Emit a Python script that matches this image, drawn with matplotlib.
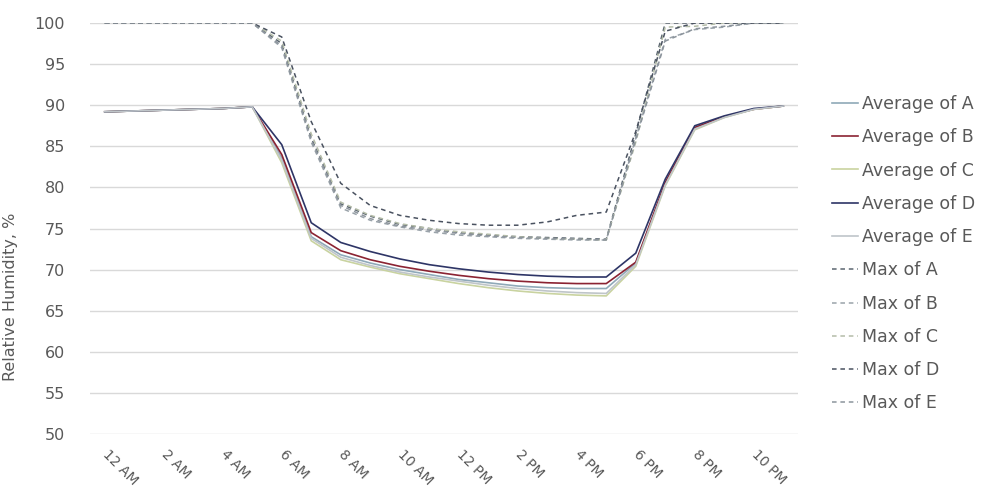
import numpy as np
from matplotlib import pyplot as plt

# hourly categories, 12 AM .. 11 PM
hours = ['12 AM', '1 AM', '2 AM', '3 AM', '4 AM', '5 AM', '6 AM', '7 AM', '8 AM', '9 AM', '10 AM', '11 AM',
         '12 PM', '1 PM', '2 PM', '3 PM', '4 PM', '5 PM', '6 PM', '7 PM', '8 PM', '9 PM', '10 PM', '11 PM']

avg_a = [89.2, 89.3, 89.4, 89.5, 89.6, 89.8, 83.6, 74.0, 71.8, 70.8, 70.0, 69.4,
         68.8, 68.4, 68.0, 67.8, 67.7, 67.7, 70.8, 80.5, 87.2, 88.6, 89.5, 89.9]
avg_b = [89.2, 89.3, 89.4, 89.5, 89.6, 89.8, 84.0, 74.5, 72.3, 71.2, 70.4, 69.8,
         69.3, 68.9, 68.6, 68.4, 68.3, 68.3, 70.9, 80.6, 87.3, 88.6, 89.5, 89.9]
avg_c = [89.2, 89.3, 89.4, 89.5, 89.6, 89.8, 83.0, 73.5, 71.2, 70.3, 69.5, 68.9,
         68.3, 67.8, 67.4, 67.1, 66.9, 66.8, 70.4, 80.2, 87.0, 88.5, 89.5, 89.9]
avg_d = [89.2, 89.3, 89.4, 89.5, 89.6, 89.8, 85.2, 75.7, 73.3, 72.2, 71.3, 70.6,
         70.1, 69.7, 69.4, 69.2, 69.1, 69.1, 72.0, 81.0, 87.5, 88.7, 89.6, 89.9]
avg_e = [89.2, 89.3, 89.4, 89.5, 89.6, 89.8, 83.3, 73.8, 71.5, 70.5, 69.7, 69.1,
         68.6, 68.1, 67.7, 67.4, 67.2, 67.1, 70.6, 80.3, 87.1, 88.5, 89.5, 89.9]

max_a = [100, 100, 100, 100, 100, 100, 97.5, 86.0, 78.0, 76.5, 75.5, 75.0,
         74.5, 74.2, 74.0, 73.9, 73.8, 73.7, 86.5, 100, 100, 100, 100, 100]
max_b = [100, 100, 100, 100, 100, 100, 97.0, 85.5, 77.5, 76.0, 75.2, 74.6,
         74.2, 74.0, 73.8, 73.7, 73.6, 73.6, 86.0, 98.0, 99.2, 99.5, 100, 100]
max_c = [100, 100, 100, 100, 100, 100, 97.8, 86.5, 78.2, 76.6, 75.6, 75.0,
         74.6, 74.3, 74.0, 73.8, 73.7, 73.6, 85.5, 99.5, 99.6, 100, 100, 100]
max_d = [100, 100, 100, 100, 100, 100, 98.3, 88.0, 80.5, 77.8, 76.6, 76.0,
         75.6, 75.4, 75.4, 75.8, 76.6, 77.0, 86.8, 99.0, 100, 100, 100, 100]
max_e = [100, 100, 100, 100, 100, 100, 97.2, 85.8, 77.8, 76.2, 75.3, 74.8,
         74.4, 74.1, 73.9, 73.8, 73.7, 73.6, 85.8, 97.8, 99.3, 99.6, 100, 100]

avg_series = [('Average of A', avg_a, '#8fa9b8'),
              ('Average of B', avg_b, '#8b2332'),
              ('Average of C', avg_c, '#c9d3a0'),
              ('Average of D', avg_d, '#2e3566'),
              ('Average of E', avg_e, '#bfc5c9')]
max_series = [('Max of A', max_a, '#5b6670'),
              ('Max of B', max_b, '#9aa3aa'),
              ('Max of C', max_c, '#b4bca8'),
              ('Max of D', max_d, '#4a5260'),
              ('Max of E', max_e, '#8c949c')]

text_color = '#595959'
plt.rcParams['font.family'] = ['DejaVu Sans']

fig = plt.figure(figsize=(9.82, 4.91), dpi=100)
ax = fig.add_axes([90 / 982, 1 - 434 / 491, 708 / 982, 411 / 491])

x = np.arange(len(hours))
for name, vals, col in avg_series:
    ax.plot(x, vals, color=col, lw=1.2, label=name)
for name, vals, col in max_series:
    ax.plot(x, vals, color=col, lw=1.1, linestyle=(0, (3, 2.5)), label=name)

ax.set_xlim(-0.5, len(hours) - 0.5)
ax.set_ylim(50, 100)
ax.set_yticks(np.arange(50, 101, 5))
ax.yaxis.grid(True, color='#d9d9d9', lw=1)
ax.set_axisbelow(True)
for s in ax.spines.values():
    s.set_visible(False)

ax.set_xticks(x[::2])
ax.set_xticklabels(hours[::2], rotation=-45, rotation_mode='anchor', ha='left', va='center')
ax.tick_params(axis='x', length=0, pad=13, labelsize=10, labelcolor=text_color)
ax.tick_params(axis='y', length=0, pad=18, labelsize=11.5, labelcolor=text_color)

ax.set_ylabel('Relative Humidity, %', fontsize=11.5, color=text_color)
ax.yaxis.set_label_coords(-0.102, 0.333)

fig.legend(loc='upper left', bbox_to_anchor=(832 / 982, 1 - 95 / 491), frameon=False,
           fontsize=12.5, labelcolor=text_color, handlelength=1.5, handletextpad=0.25,
           labelspacing=0.88, borderpad=0, borderaxespad=0)

fig.savefig('out.png', dpi=100)
